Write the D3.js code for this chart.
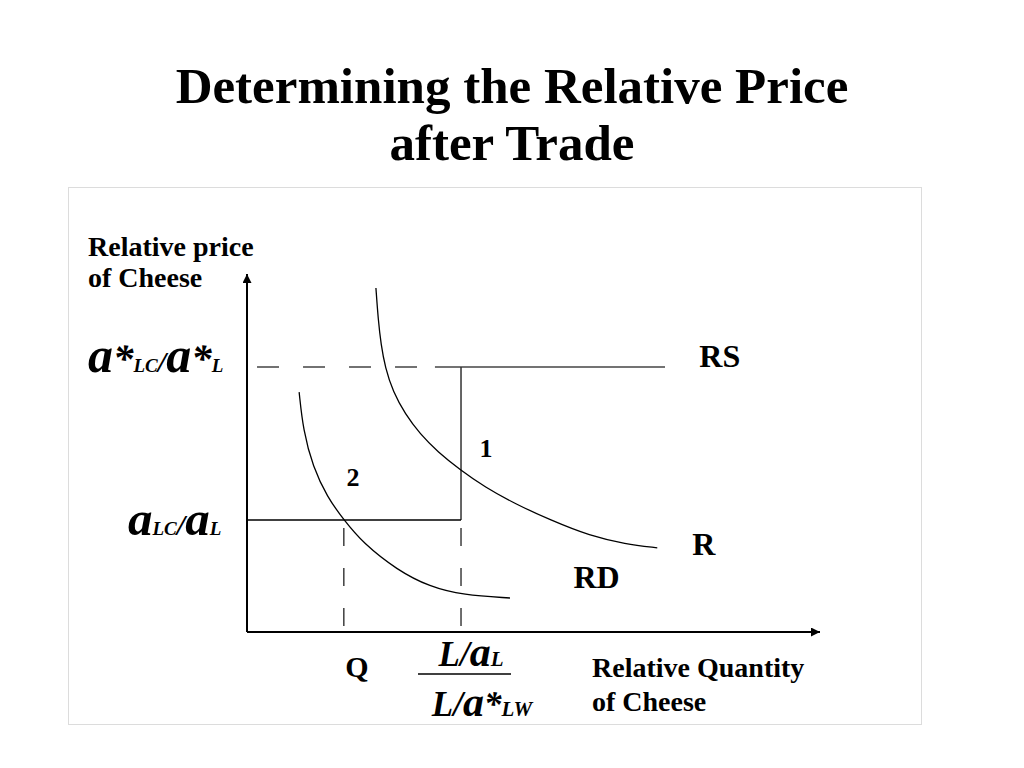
<!DOCTYPE html>
<html>
<head>
<meta charset="utf-8">
<script src="https://cdn.jsdelivr.net/npm/d3@7"></script>
<style>
  html, body { margin: 0; padding: 0; background: #fff; }
  svg { display: block; }
  text { font-family: "Liberation Serif", "Times New Roman", serif; font-weight: bold; fill: #000; }
</style>
</head>
<body>
<div id="chart"></div>
<script>
// ---------- data ----------
const titleLines = ["Determining the Relative Price", "after Trade"];
const yTitleLines = ["Relative price", "of Cheese"];
const xTitleLines = ["Relative Quantity", "of Cheese"];

// price levels (y) and quantities (x) on a 0-100 diagram scale
const rsLevel = 74.0;        // a*LC / a*L  (foreign autarky price)
const homeLevel = 31.3;      // aLC / aL     (home autarky price)
const rsKinkX = 37.35;       // L/aL / L/a*LW
const qX = 16.9;             // Q
const rsDashStart = 1.75;
const rsSolidStart = 32.8;
const rsEnd = 72.95;

// upper relative demand curve ("R")
const curveR = [
  [22.5, 96.1], [22.9, 87.2], [23.4, 80.2], [24.1, 74.0], [25.5, 67.0],
  [27.6, 60.9], [30.2, 55.3], [33.3, 50.3], [37.2, 45.3], [41.5, 40.5],
  [46.8, 35.8], [52.9, 31.3], [59.9, 26.8], [66.0, 24.6], [71.6, 23.5]
];
// lower relative demand curve ("RD")
const curveRD = [
  [9.1, 67.0], [9.8, 56.4], [11.5, 46.1], [14.0, 37.7], [16.9, 31.3],
  [20.2, 24.9], [26.2, 17.3], [31.9, 12.6], [37.7, 10.3], [45.9, 9.5]
];

// curve / point labels in diagram units
const pointLabels = [
  { text: "RS", x: 82.5, y: 74.0, size: 32 },
  { text: "R",  x: 79.7, y: 21.5, size: 32 },
  { text: "RD", x: 61.0, y: 12.3, size: 32 },
  { text: "1",  x: 41.7, y: 49.0, size: 26 },
  { text: "2",  x: 18.5, y: 40.7, size: 26 }
];

// ---------- layout ----------
const W = 1024, H = 768;
const svg = d3.select("#chart").append("svg").attr("width", W).attr("height", H);

const x = d3.scaleLinear().domain([0, 100]).range([247, 820]);
const y = d3.scaleLinear().domain([0, 100]).range([632, 274]);

// title
svg.append("text")
  .attr("text-anchor", "middle")
  .attr("font-size", 51)
  .selectAll("tspan").data(titleLines).join("tspan")
  .attr("x", 512).attr("y", (d, i) => 103 + i * 57)
  .text(d => d);

// dotted frame
svg.append("rect")
  .attr("x", 68.5).attr("y", 187.5).attr("width", 853).attr("height", 537)
  .attr("fill", "none").attr("stroke", "#b8b8b8").attr("stroke-width", 1)
  .attr("stroke-dasharray", "1,1");

// arrow markers
const defs = svg.append("defs");
defs.append("marker").attr("id", "arrow")
  .attr("viewBox", "0 0 10 10").attr("refX", 10).attr("refY", 5)
  .attr("markerUnits", "userSpaceOnUse")
  .attr("markerWidth", 12).attr("markerHeight", 9).attr("orient", "auto")
  .append("path").attr("d", "M0,0 L10,5 L0,10 Z").attr("fill", "#000");

// axes
svg.append("line")
  .attr("x1", x(0)).attr("y1", y(0)).attr("x2", x(0)).attr("y2", y(100))
  .attr("stroke", "#000").attr("stroke-width", 2).attr("marker-end", "url(#arrow)");
svg.append("line")
  .attr("x1", x(0)).attr("y1", y(0)).attr("x2", x(100)).attr("y2", y(0))
  .attr("stroke", "#000").attr("stroke-width", 2).attr("marker-end", "url(#arrow)");

// RS curve
svg.append("line")
  .attr("x1", x(rsDashStart)).attr("x2", x(rsSolidStart))
  .attr("y1", y(rsLevel)).attr("y2", y(rsLevel))
  .attr("stroke", "#444").attr("stroke-width", 1.5).attr("stroke-dasharray", "22,24");
svg.append("line")
  .attr("x1", x(rsSolidStart)).attr("x2", x(rsEnd))
  .attr("y1", y(rsLevel)).attr("y2", y(rsLevel))
  .attr("stroke", "#444").attr("stroke-width", 1.5);
svg.append("line")
  .attr("x1", x(rsKinkX)).attr("x2", x(rsKinkX))
  .attr("y1", y(rsLevel)).attr("y2", y(homeLevel))
  .attr("stroke", "#333").attr("stroke-width", 1.5);
svg.append("line")
  .attr("x1", x(0)).attr("x2", x(rsKinkX))
  .attr("y1", y(homeLevel)).attr("y2", y(homeLevel))
  .attr("stroke", "#000").attr("stroke-width", 1.5);

// dashed drop lines
[qX, rsKinkX].forEach(v => {
  svg.append("line")
    .attr("x1", x(v)).attr("x2", x(v))
    .attr("y1", y(homeLevel) + 8).attr("y2", y(0))
    .attr("stroke", "#222").attr("stroke-width", 1.3).attr("stroke-dasharray", "18,22");
});

// demand curves
const line = d3.line().x(d => x(d[0])).y(d => y(d[1])).curve(d3.curveBasis);
[curveR, curveRD].forEach(c => {
  svg.append("path").attr("d", line(c))
    .attr("fill", "none").attr("stroke", "#000").attr("stroke-width", 1.3);
});

// curve labels
svg.selectAll("text.pl").data(pointLabels).join("text").attr("class", "pl")
  .attr("x", d => x(d.x)).attr("y", d => y(d.y))
  .attr("font-size", d => d.size)
  .attr("text-anchor", "middle")
  .text(d => d.text);

// axis titles
svg.append("text").attr("font-size", 28)
  .selectAll("tspan").data(yTitleLines).join("tspan")
  .attr("x", 88).attr("y", (d, i) => 256 + i * 31).text(d => d);
svg.append("text").attr("font-size", 28)
  .selectAll("tspan").data(xTitleLines).join("tspan")
  .attr("x", 592).attr("y", (d, i) => 677 + i * 34).text(d => d);

// helper for math-like labels
function mathLabel(xp, yp, parts, anchor) {
  const t = svg.append("text").attr("x", xp).attr("y", yp)
    .attr("text-anchor", anchor || "start").attr("font-style", "italic");
  parts.forEach(p => t.append("tspan").attr("font-size", p[1]).text(p[0]));
  return t;
}

// y-axis value labels
mathLabel(88, y(rsLevel) + 5, [["a", 50], ["*", 41], ["LC", 19], ["/", 30], ["a", 50], ["*", 41], ["L", 19]]);
mathLabel(128, y(homeLevel) + 15, [["a", 49], ["LC", 19], ["/", 30], ["a", 49], ["L", 19]]);

// x-axis value labels
svg.append("text").attr("x", x(qX) + 13).attr("y", 677).attr("font-size", 30)
  .attr("text-anchor", "middle").text("Q");
mathLabel(x(rsKinkX) + 10, 666, [["L", 35], ["/", 35], ["a", 42], ["L", 21]], "middle");
svg.append("line")
  .attr("x1", x(rsKinkX) - 43).attr("x2", x(rsKinkX) + 50)
  .attr("y1", 674).attr("y2", 674).attr("stroke", "#000").attr("stroke-width", 1.3);
mathLabel(x(rsKinkX) + 21, 716, [["L", 35], ["/", 35], ["a", 42], ["*", 35], ["LW", 21]], "middle");
</script>
</body>
</html>
